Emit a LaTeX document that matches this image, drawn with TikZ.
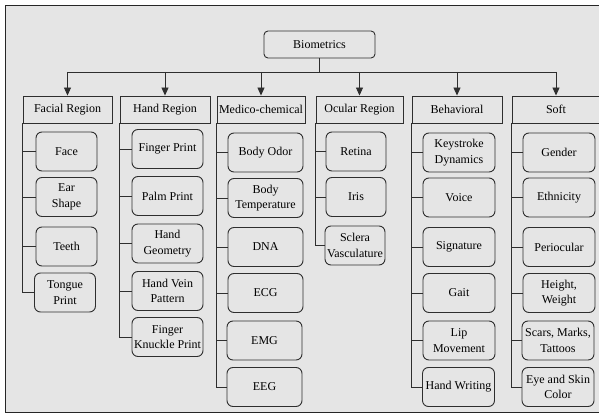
\documentclass[tikz,border=0pt]{standalone}
\usepackage{fontspec}
\setmainfont{Liberation Serif}
\usetikzlibrary{arrows.meta}
\definecolor{panel}{HTML}{E5E5E5}
\definecolor{ink}{HTML}{2E2E2E}
\begin{document}
\begin{tikzpicture}[x=1pt,y=-1pt,
  line width=0.9pt,
  every node/.style={font=\fontsize{12}{15.5}\selectfont, text=black, align=center, inner sep=0pt},
  rootbox/.style={draw=ink, rounded corners=4pt, minimum width=111pt, minimum height=27pt},
  headbox/.style={draw=ink, minimum height=27pt},
  leafbox/.style={draw=ink, rounded corners=6pt, minimum height=39pt},
  link/.style={draw=ink},
  arrowlink/.style={draw=ink, -{Triangle[length=8pt,width=7pt]}}]
\useasboundingbox (0,0) rectangle (599,414);
\clip (0,0) rectangle (599,414);
% outer frame
\draw[fill=panel, draw=black!85, line width=1.6pt] (5.5,5.5) rectangle (610,412.5);

% root
\node[rootbox] (root) at (319.5,44.5) {Biometrics};
\coordinate (bus) at (0,72);

% category headers
\node[headbox, minimum width=89pt] (facial) at (67.5,109.5) {Facial Region};
\node[headbox, minimum width=90pt] (hand)   at (165,109.5) {Hand Region};
\node[headbox, minimum width=88pt] (medico) at (261,109.5) {Medico-chemical};
\node[headbox, minimum width=87pt] (ocular) at (359.5,109.5) {Ocular Region};
\node[headbox, minimum width=90pt] (behav)  at (457,109.5) {Behavioral};
\node[headbox, minimum width=88pt] (soft)   at (556,109.5) {Soft};

% root to headers
\draw[link] (root.south) -- (root.south |- bus);
\draw[link] (facial.north |- bus) -- (soft.north |- bus);
\foreach \h in {facial,hand,medico,ocular,behav,soft}
  \draw[arrowlink] (\h.north |- bus) -- (\h.north);

% Facial Region
\begin{scope}[every node/.append style={leafbox, minimum width=61pt}]
\node (f1) at (66.5,151.5) {Face};
\node (f2) at (66.5,197) {Ear\\Shape};
\node (f3) at (66.5,246.5) {Teeth};
\node (f4) at (65,292.5) {Tongue\\Print};
\end{scope}

% Hand Region
\begin{scope}[every node/.append style={leafbox, minimum width=71pt}]
\node (h1) at (167.5,149) {Finger Print};
\node (h2) at (167.5,196) {Palm Print};
\node (h3) at (167.5,243.5) {Hand\\Geometry};
\node (h4) at (167.5,291) {Hand Vein\\Pattern};
\node (h5) at (167.5,337) {Finger\\Knuckle Print};
\end{scope}

% Medico-chemical
\begin{scope}[every node/.append style={leafbox, minimum width=75pt}]
\node (m1) at (265.5,152.5) {Body Odor};
\node (m2) at (265.5,198) {Body\\Temperature};
\node (m3) at (265.5,247) {DNA};
\node (m4) at (265.5,293) {ECG};
\node (m5) at (264.5,340.5) {EMG};
\node (m6) at (264.5,387) {EEG};
\end{scope}

% Ocular Region
\begin{scope}[every node/.append style={leafbox, minimum width=60pt}]
\node (o1) at (356,151.5) {Retina};
\node (o2) at (356,197) {Iris};
\node (o3) at (355,245.5) {Sclera\\Vasculature};
\end{scope}

% Behavioral
\begin{scope}[every node/.append style={leafbox, minimum width=72pt}]
\node (b1) at (459,152.5) {Keystroke\\Dynamics};
\node (b2) at (459,197.5) {Voice};
\node (b3) at (459,247) {Signature};
\node (b4) at (459,293) {Gait};
\node (b5) at (459,340.5) {Lip\\Movement};
\node (b6) at (458.5,387) {Hand Writing};
\end{scope}

% Soft
\begin{scope}[every node/.append style={leafbox, minimum width=72pt}]
\node (s1) at (559,152.5) {Gender};
\node (s2) at (559,197.5) {Ethnicity};
\node (s3) at (559,247) {Periocular};
\node (s4) at (559,293) {Height,\\Weight};
\node (s5) at (558,340.5) {Scars, Marks,\\Tattoos};
\node (s6) at (558,387) {Eye and Skin\\Color};
\end{scope}

% tree connectors: a spine down each header's left side, one branch per item
\foreach \h/\items/\last in {facial/{f1,f2,f3}/f4, hand/{h1,h2,h3,h4}/h5,
    medico/{m1,m2,m3,m4,m5}/m6, ocular/{o1,o2}/o3,
    behav/{b1,b2,b3,b4,b5}/b6, soft/{s1,s2,s3,s4,s5}/s6}{
  \draw[link] (\h.south west) |- (\last.west);
  \foreach \c in \items
    \draw[link] (\h.south west |- \c.west) -- (\c.west);
}
\end{tikzpicture}
\end{document}
